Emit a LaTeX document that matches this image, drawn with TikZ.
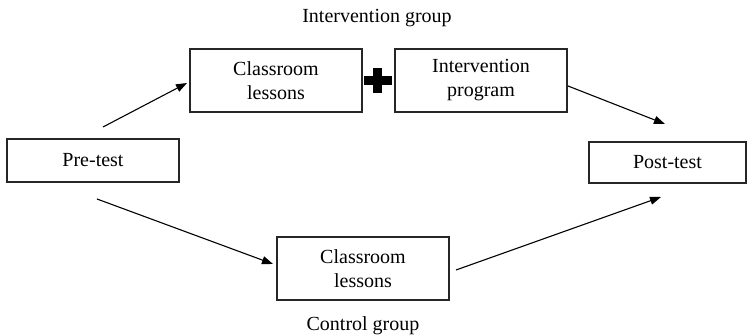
\documentclass[tikz,border=0pt]{standalone}
\usepackage{fontspec}
\setmainfont{Liberation Serif}
\usetikzlibrary{arrows.meta}
\begin{document}
\begin{tikzpicture}[x=1pt,y=1pt,
  box/.style={draw=black!85, line width=1.2pt, minimum height=63pt, minimum width=172pt, inner sep=0pt, align=center, font=\fontsize{20}{24}\selectfont},
  lbl/.style={inner sep=0pt, font=\fontsize{20}{24}\selectfont},
  arr/.style={line width=1.1pt, -{Triangle[length=11pt,width=8pt]}}]
\useasboundingbox (0,0) rectangle (752,336);
\node[box, minimum height=43pt] (pre) at (93,175.5) {Pre-test};
\node[box] (cl1) at (276,255.5) {Classroom\\lessons};
\node[box] (iv) at (481,255.5) {Intervention\\program};
\node[box, minimum width=157pt, minimum height=41pt] (post) at (667.5,173.5) {Post-test};
\node[box] (cl2) at (363,67.5) {Classroom\\lessons};
\node[lbl] (ig) at (377,318) {Intervention group};
\node[lbl] (cg) at (363,10) {Control group};
\coordinate (plus) at (377.5,255);
\fill[black] ([xshift=-14pt,yshift=-4.5pt]plus) rectangle ([xshift=14pt,yshift=4.5pt]plus);
\fill[black] ([xshift=-4.5pt,yshift=-12.5pt]plus) rectangle ([xshift=4.5pt,yshift=12.5pt]plus);
\coordinate (a1s) at (103,209);
\coordinate (a1e) at (187,253);
\coordinate (a2s) at (568,250);
\coordinate (a2e) at (665,212);
\coordinate (a3s) at (97,137);
\coordinate (a3e) at (273,72);
\coordinate (a4s) at (456,66);
\coordinate (a4e) at (661,139);
\draw[arr] (a1s) -- (a1e);
\draw[arr] (a2s) -- (a2e);
\draw[arr] (a3s) -- (a3e);
\draw[arr] (a4s) -- (a4e);
\end{tikzpicture}
\end{document}
